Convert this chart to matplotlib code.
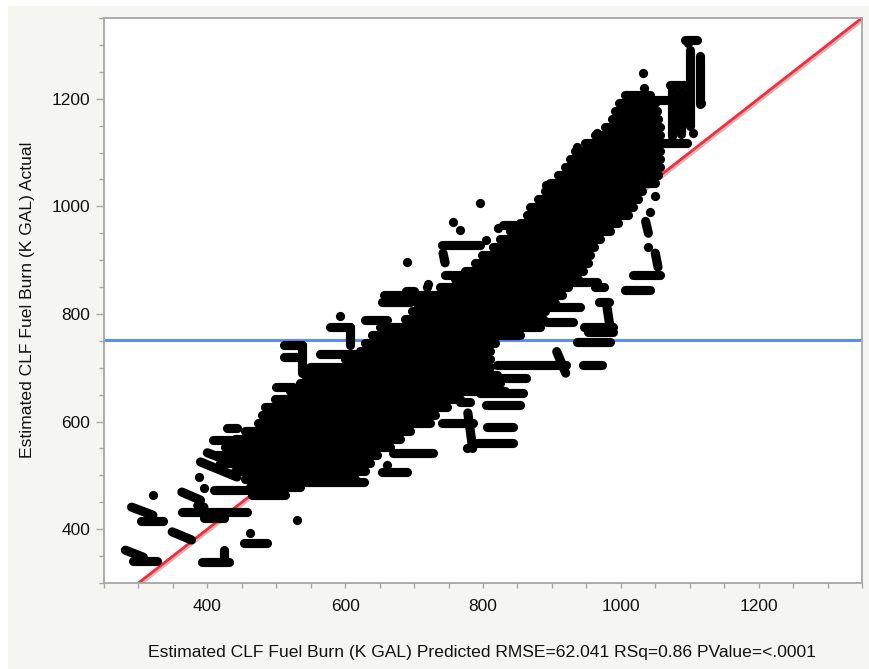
import numpy as np
import matplotlib
matplotlib.use("Agg")
import matplotlib.pyplot as plt
from matplotlib.collections import LineCollection
from matplotlib.patches import Rectangle
from matplotlib.ticker import MultipleLocator

plt.rcParams['font.family'] = ['Liberation Sans', 'DejaVu Sans']

# dense core of the cloud: rows of overlapping points (actual, predicted from..to)
core_y = [1207, 1192, 1177, 1162, 1147, 1133, 1118, 1103, 1088, 1073,
          1058, 1043, 1028, 1014, 999, 984, 969, 954, 939, 924,
          910, 895, 880, 865, 850, 835, 820, 806, 791, 776,
          761, 746, 731, 716, 701, 687, 672, 657, 642, 627,
          612, 597, 583, 568, 553, 538, 523, 508, 493, 478, 464]
core_x0 = [1006, 998, 991, 987, 977, 962, 948, 933, 926, 919,
           909, 897, 890, 880, 868, 864, 854, 839, 825, 815,
           799, 788, 774, 759, 738, 716, 704, 697, 687, 651,
           639, 629, 622, 600, 549, 542, 534, 520, 498, 484,
           479, 474, 455, 440, 426, 411, 418, 440, 455, 462, 465]
core_x1 = [1042, 1049, 1052, 1054, 1057, 1057, 1057, 1057, 1057, 1057,
           1054, 1050, 1031, 1025, 1018, 1010, 996, 984, 970, 961,
           955, 952, 945, 938, 923, 915, 905, 890, 887, 883,
           854, 817, 810, 810, 810, 820, 825, 832, 767, 748,
           730, 723, 694, 680, 665, 646, 636, 629, 614, 534, 513]

# smaller streaks of points outside the core (start and end)
streak_x0 = [1100, 1115, 1075, 1088, 1017, 1054, 1072, 1093,
             1036, 1050, 1018, 1006, 962, 968, 893, 980, 893, 947, 952, 936,
             945, 907, 820, 820, 796, 805, 767, 778, 741, 806, 792, 669, 654,
             526, 930, 829,
             653, 656, 578, 629, 607, 741, 742, 745, 688, 511, 537, 511, 500,
             563, 549, 490, 476,
             428, 408, 390, 400, 410, 290, 303, 363, 363, 395, 386, 349, 453,
             281, 292, 392, 424]
streak_y0 = [1290, 1280, 1225, 1215, 1198, 1118, 1225, 1309,
             972, 913, 872, 845, 850, 822, 813, 812, 785, 776, 766, 748,
             705, 730, 705, 681, 653, 630, 636, 616, 597, 590, 560, 542, 506,
             487, 860, 965,
             822, 835, 775, 789, 776, 928, 913, 873, 843, 742, 742, 720, 664,
             725, 697, 621, 597,
             588, 565, 525, 542, 473, 441, 415, 469, 432, 421, 444, 395, 374,
             361, 341, 339, 361]
streak_x1 = [1100, 1115, 1075, 1088, 1096, 1096, 1096, 1111,
             1040, 1054, 1057, 1042, 975, 983, 941, 985, 930, 988, 988, 984,
             972, 920, 920, 863, 858, 853, 781, 785, 785, 843, 843, 727, 690,
             627, 965, 864,
             694, 723, 607, 660, 607, 796, 745, 776, 700, 537, 537, 534, 524,
             632, 582, 520, 509,
             443, 457, 443, 453, 511, 321, 335, 390, 457, 424, 395, 377, 487,
             307, 327, 432, 424]
streak_y1 = [1150, 1190, 1130, 1135, 1198, 1118, 1225, 1309,
             950, 887, 872, 845, 850, 822, 813, 770, 785, 776, 766, 748,
             705, 690, 705, 681, 653, 630, 636, 550, 597, 590, 560, 542, 506,
             487, 860, 965,
             822, 835, 775, 789, 742, 928, 895, 873, 843, 742, 690, 720, 664,
             725, 697, 621, 597,
             588, 565, 497, 516, 473, 426, 415, 454, 432, 421, 441, 380, 374,
             348, 341, 339, 339]

# single points
dot_x = [1097, 1105, 1032, 965, 1033, 1047, 1050, 1042, 1040, 719, 592, 689,
         795, 756, 767, 822, 804, 744, 892, 777, 661, 388, 395, 321, 462,
         530, 720, 937, 952, 1117]
dot_y = [1304, 1136, 1248, 1136, 1220, 1046, 1020, 989, 924, 850, 797, 897,
         1006, 971, 956, 960, 937, 900, 1040, 551, 519, 497, 476, 463, 393,
         417, 856, 1110, 1092, 1192]

mean_actual = 752

fig = plt.figure(figsize=(8.7, 6.69), dpi=100, facecolor='white')
fig.patches.append(Rectangle((8 / 870, 0), 1, 1 - 6 / 669, transform=fig.transFigure,
                             facecolor='#f5f5f1', edgecolor='none', zorder=-10))
ax = fig.add_axes([104 / 870, 1 - 583 / 669, 758 / 870, 565 / 669])
ax.set_facecolor('white')

# fit line (actual = predicted) and mean line
diag = np.array([250, 1350])
ax.plot(diag, diag - 3, color='#f6a9b0', lw=3.5, zorder=1)
ax.plot(diag, diag, color='#e8333f', lw=2, zorder=1)
ax.axhline(mean_actual, color='#5c8ef0', lw=2.2, zorder=1)

segs = [[(a, y), (b, y)] for y, a, b in zip(core_y, core_x0, core_x1)]
segs += [[(a, b), (c, d)] for a, b, c, d in zip(streak_x0, streak_y0, streak_x1, streak_y1)]
ax.add_collection(LineCollection(segs, colors='black', linewidths=6.6,
                                 capstyle='round', zorder=3))
ax.scatter(dot_x, dot_y, s=44, c='black', linewidths=0, zorder=3)

ax.set_xlim(250, 1350)
ax.set_ylim(300, 1350)
ax.xaxis.set_major_locator(MultipleLocator(200))
ax.xaxis.set_minor_locator(MultipleLocator(50))
ax.yaxis.set_major_locator(MultipleLocator(200))
ax.yaxis.set_minor_locator(MultipleLocator(50))
for s in ax.spines.values():
    s.set_color('#a6a6a6')
    s.set_linewidth(1.3)
ax.tick_params(axis='y', which='major', length=6, width=1, color='#a6a6a6',
               labelsize=12.5, pad=4, labelcolor='#111111')
ax.tick_params(axis='y', which='minor', length=3.5, width=1, color='#a6a6a6')
ax.tick_params(axis='x', which='both', length=3.5, width=1, color='#a6a6a6',
               labelsize=12.5, pad=8, labelcolor='#111111')

fig.text(482 / 870, 1 - 653 / 669,
         'Estimated CLF Fuel Burn (K GAL) Predicted RMSE=62.041 RSq=0.86 PValue=<.0001',
         ha='center', va='center', fontsize=12.6, color='#111111')
fig.text(28 / 870, 1 - 300 / 669, 'Estimated CLF Fuel Burn (K GAL) Actual',
         rotation=90, ha='center', va='center', fontsize=12.6, color='#111111')

fig.savefig('out.png', dpi=100, facecolor=fig.get_facecolor())
